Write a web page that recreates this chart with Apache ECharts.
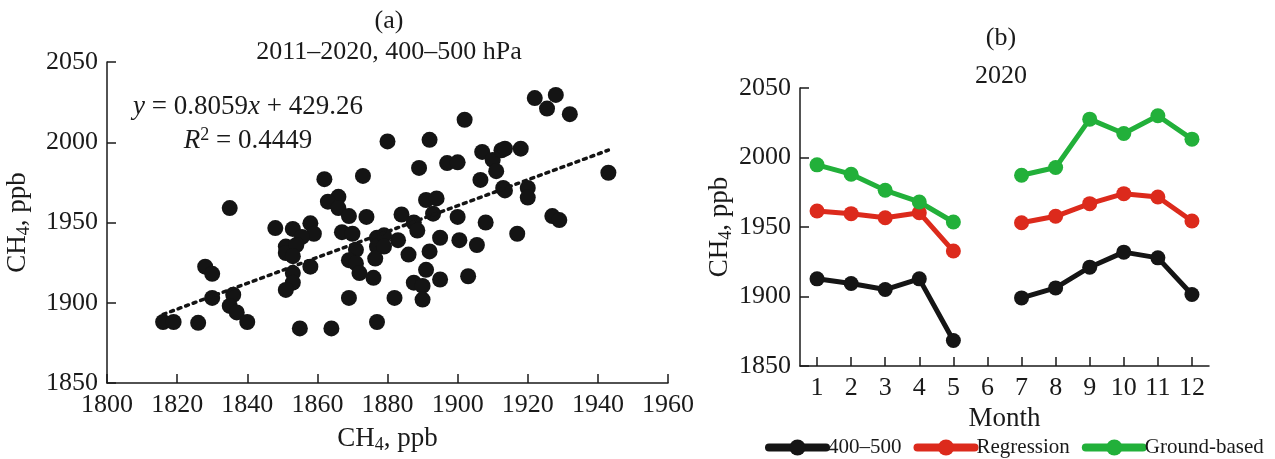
<!DOCTYPE html>
<html>
<head>
<meta charset="utf-8">
<script src="https://cdn.jsdelivr.net/npm/echarts@6/dist/echarts.min.js"></script>
<style>
html,body{margin:0;padding:0;background:#fff;}
#c{width:1275px;height:459px;}
</style>
</head>
<body>
<div id="c"></div>
<script>
// ---- Panel (a): scatter data (CH4 ppb, x vs y) ----
const scatterX = [1816,1819,1826,1828,1830,1830,1835,1836,1835,1837,1840,
  1862,1873,1866,1863,1866,1869,1874,1848,1853,1858,1859,1855.6,1851,1851,1854,1853,
  1867,1870,1877,1877,1876.5,1871,1869,1871,1872,1876,1858,1853,1853,1851,1869,1855,1864,1877,
  1902,1880,1892,1889,1897,1900,1907,1910,1912.5,1911,1906.5,1913,1891,1894,1893,1900,1908,
  1884,1887.5,1888.5,1883,1879,1879,1886,1895,1900.5,1905.5,1892,1891,1887.5,1890,1895,1903,1882,1890,
  1922,1928,1925.5,1932,1913.5,1918,1943,1913.5,1920,1920,1927,1929,1917];
const scatterY = [1888,1888,1887.5,1922.5,1918,1903,1959,1905,1898,1894,1888,
  1977,1979,1966,1963,1959,1954,1953.5,1946.5,1946,1949.5,1943,1941,1935,1931,1936,1929,
  1944,1943,1940.5,1935,1927.5,1933,1926.5,1924.5,1918.5,1915.5,1922.5,1918.5,1912.5,1908,1903,1884,1884,1888,
  2014,2000.5,2001.5,1984,1987,1987.5,1994,1989,1995,1982,1976.5,1971.5,1964,1965,1955.5,1953.5,1950,
  1955,1950,1945,1939,1942,1935,1930,1940.5,1939,1936,1932,1920.5,1912.5,1910.5,1914.5,1916.5,1903,1902,
  2027.5,2029.5,2021,2017.5,1996,1996,1981,1970,1971.5,1965.5,1954,1951.5,1943];
// regression line end points (y = 0.8059x + 429.26)
const trendX = [1816, 1943];
const trendY = [1892.8, 1995.1];
const xTicksA = {min:1800, max:1960, interval:20};
const yTicksA = {min:1850, max:2050, interval:50};

// ---- Panel (b): monthly 2020 ----
const months = ['1','2','3','4','5','6','7','8','9','10','11','12'];
const yTicksB = {min:1850, max:2050, interval:50};
const s400500 = [1912.7,1909.4,1905,1912.7,1868.3,null,1899,1906.2,1921.1,1931.9,1927.8,1901.4];
const sRegression = [1961.5,1959.6,1956.7,1960.3,1932.7,null,1953.1,1957.7,1966.8,1974,1971.6,1954.3];
const sGround = [1994.7,1988,1976.4,1968,1953.6,null,1987.2,1992.8,2027.6,2017.3,2030,2013.2];
const seriesNames = ['400\u2013500','Regression','Ground-based'];
const seriesColors = ['#151515','#dc2a1c','#22b03a'];

const FONT = '"Liberation Serif","DejaVu Serif",serif';
const TXT = '#1a1a1a';

const chart = echarts.init(document.getElementById('c'), null, {renderer:'canvas'});

const axisNameRich = {
  a:{fontFamily:FONT,fontSize:27,color:TXT},
  s:{fontFamily:FONT,fontSize:18,color:TXT,padding:[13,0,0,0]}
};
const chName = '{a|CH}{s|4}{a|, ppb}';

function baseAxis(extra){
  return Object.assign({
    axisLine:{show:true,lineStyle:{color:TXT,width:1.5}},
    axisTick:{show:true,inside:true,length:9,lineStyle:{color:TXT,width:1.5}},
    axisLabel:{fontFamily:FONT,fontSize:26,color:TXT,margin:9,formatter:(v)=>String(v)},
    splitLine:{show:false},
    nameTextStyle:{rich:axisNameRich},
    nameLocation:'middle'
  }, extra);
}

const scatterData = scatterX.map((x,i)=>[x, scatterY[i]]);
const trendData = trendX.map((x,i)=>[x, trendY[i]]);
const titleStyle = {fontFamily:FONT,fontSize:26,fontWeight:'normal',color:TXT};

const option = {
  animation:false,
  backgroundColor:'#fff',
  title:[
    {text:'(a)', left:384, top:3, textAlign:'center', textStyle:titleStyle},
    {text:'2011\u20132020, 400\u2013500 hPa', left:384, top:34, textAlign:'center', textStyle:titleStyle},
    {text:'(b)', left:996, top:20, textAlign:'center', textStyle:titleStyle},
    {text:'2020', left:996, top:58, textAlign:'center', textStyle:titleStyle}
  ],
  grid:[
    {left:107, top:62, width:561, height:327, containLabel:false},
    {left:800, top:88, width:409, height:278, containLabel:false}
  ],
  xAxis:[
    baseAxis({type:'value', gridIndex:0, min:xTicksA.min, max:xTicksA.max, interval:xTicksA.interval,
      name:chName, nameGap:40}),
    baseAxis({type:'category', gridIndex:1, data:months, boundaryGap:true,
      axisTick:{show:true,inside:true,alignWithLabel:true,length:9,lineStyle:{color:TXT,width:1.5}},
      axisLabel:{fontFamily:FONT,fontSize:26,color:TXT,margin:9},
      name:'Month', nameGap:26, nameTextStyle:{fontFamily:FONT,fontSize:27,color:TXT}})
  ],
  yAxis:[
    baseAxis({type:'value', gridIndex:0, min:yTicksA.min, max:yTicksA.max, interval:yTicksA.interval,
      name:chName, nameGap:74, nameRotate:90}),
    baseAxis({type:'value', gridIndex:1, min:yTicksB.min, max:yTicksB.max, interval:yTicksB.interval,
      name:chName, nameGap:63, nameRotate:90})
  ],
  legend:{
    data:seriesNames, left:760, top:432, itemWidth:57, itemHeight:20, itemGap:12,
    lineStyle:{width:8, cap:'round'},
    textStyle:{fontFamily:FONT,fontSize:21,color:TXT,padding:[0,0,0,-3]}
  },
  series:[
    {type:'scatter', xAxisIndex:0, yAxisIndex:0, data:scatterData, symbolSize:16,
     itemStyle:{color:'#141414', opacity:1}, silent:true},
    {type:'line', xAxisIndex:0, yAxisIndex:0, data:trendData, symbol:'none',
     lineStyle:{color:'#141414', width:3.5, type:[3,5], cap:'round'}, silent:true},
    ...[s400500, sRegression, sGround].map((d,i)=>({
      name:seriesNames[i], type:'line', xAxisIndex:1, yAxisIndex:1, data:d,
      connectNulls:false, symbol:'circle', symbolSize:15,
      lineStyle:{color:seriesColors[i], width:5},
      itemStyle:{color:seriesColors[i]}
    }))
  ],
  graphic:[
    {type:'text', position:[248,107], style:{
      text:'{i|y} = 0.8059{i|x} + 429.26', x:0, y:0, align:'center', verticalAlign:'middle',
      rich:{i:{fontFamily:FONT,fontSize:27,fontStyle:'italic',fill:TXT,color:TXT}},
      font:'27px "Liberation Serif", serif', fill:TXT}},
    {type:'text', position:[248,141], style:{
      text:'{i|R}{p|2} = 0.4449', x:0, y:0, align:'center', verticalAlign:'middle',
      rich:{i:{fontFamily:FONT,fontSize:27,fontStyle:'italic',fill:TXT,color:TXT},
            p:{fontFamily:FONT,fontSize:18,fill:TXT,color:TXT,padding:[0,0,11,0]}},
      font:'27px "Liberation Serif", serif', fill:TXT}}
  ]
};
chart.setOption(option);
</script>
</body>
</html>
